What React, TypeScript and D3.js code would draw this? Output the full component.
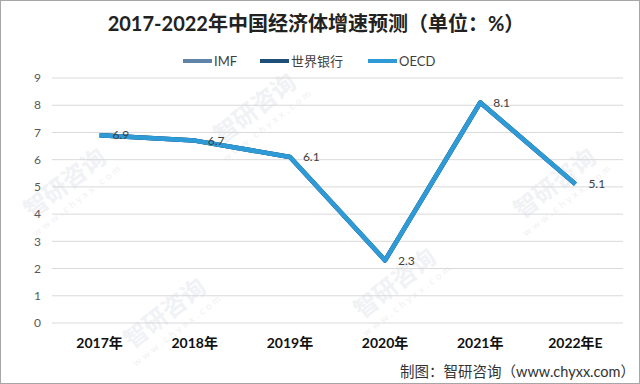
import React, { useEffect, useRef } from 'react';
import * as d3 from 'd3';

const years = ['2017年', '2018年', '2019年', '2020年', '2021年', '2022年E'];
const imf = [6.9, 6.7, 6.1, 2.3, 8.1, 5.1];
const worldBank = [6.9, 6.7, 6.1, 2.3, 8.1, 5.1];
const oecd = [6.9, 6.7, 6.1, 2.3, 8.1, 5.1];
const yTicks = [0, 1, 2, 3, 4, 5, 6, 7, 8, 9];

const series = [
  { name: 'IMF', values: imf, color: '#5f84a8' },
  { name: '世界银行', values: worldBank, color: '#1f4e79' },
  { name: 'OECD', values: oecd, color: '#2e9bd6' },
];

const FONT = "Lato, 'Noto Sans CJK SC', sans-serif";

const Chart = () => {
  const svgRef = useRef(null);

  useEffect(() => {
    const svg = d3.select(svgRef.current);
    const width = 640;
    const height = 384;
    const margin = { top: 78, right: 17, bottom: 61, left: 52 };

    svg.selectAll('*').remove();

    svg.append('rect').attr('width', width).attr('height', height).attr('fill', '#fff');

    // faint watermarks, kept inside the frame
    const marks = [
      [70, 190], [260, 115], [400, 290], [560, 190], [170, 320],
    ];
    marks.forEach(([x, y]) => {
      const g = svg.append('g').attr('transform', `translate(${x},${y}) rotate(-38)`);
      g.append('text')
        .attr('text-anchor', 'middle')
        .attr('font-family', FONT)
        .attr('font-size', 24)
        .attr('font-weight', 'bold')
        .attr('fill', '#f0f2f5')
        .text('智研咨询');
      g.append('text')
        .attr('text-anchor', 'middle')
        .attr('y', 16)
        .attr('font-family', FONT)
        .attr('font-size', 10)
        .attr('letter-spacing', 3)
        .attr('fill', '#f0f2f5')
        .text('www.chyxx.com');
    });

    const x = d3
      .scaleBand()
      .domain(years)
      .range([margin.left, width - margin.right]);

    const y = d3
      .scaleLinear()
      .domain([0, 9])
      .range([height - margin.bottom, margin.top]);

    // gridlines
    svg
      .append('g')
      .selectAll('line')
      .data(yTicks)
      .enter()
      .append('line')
      .attr('x1', margin.left)
      .attr('x2', width - margin.right)
      .attr('y1', (d) => y(d))
      .attr('y2', (d) => y(d))
      .attr('stroke', '#d9d9d9')
      .attr('stroke-width', 1);

    // y axis labels
    svg
      .append('g')
      .selectAll('text')
      .data(yTicks)
      .enter()
      .append('text')
      .attr('x', 41)
      .attr('y', (d) => y(d))
      .attr('dy', '0.35em')
      .attr('text-anchor', 'end')
      .attr('font-family', FONT)
      .attr('font-size', 12)
      .attr('fill', '#595959')
      .text((d) => d);

    // x axis labels
    svg
      .append('g')
      .selectAll('text')
      .data(years)
      .enter()
      .append('text')
      .attr('x', (d) => x(d) + x.bandwidth() / 2)
      .attr('y', 348)
      .attr('text-anchor', 'middle')
      .attr('font-family', FONT)
      .attr('font-size', 14)
      .attr('font-weight', 'bold')
      .attr('fill', '#111')
      .text((d) => d);

    const line = d3
      .line()
      .x((d, i) => x(years[i]) + x.bandwidth() / 2)
      .y((d) => y(d));

    series.forEach((s) => {
      svg
        .append('path')
        .datum(s.values)
        .attr('d', line)
        .attr('fill', 'none')
        .attr('stroke', s.color)
        .attr('stroke-width', 4.5)
        .attr('stroke-linejoin', 'round');
    });

    // data labels
    svg
      .append('g')
      .selectAll('text')
      .data(oecd)
      .enter()
      .append('text')
      .attr('x', (d, i) => x(years[i]) + x.bandwidth() / 2 + 13)
      .attr('y', (d) => y(d))
      .attr('dy', '0.35em')
      .attr('font-family', FONT)
      .attr('font-size', 12)
      .attr('fill', '#404040')
      .text((d) => d.toFixed(1));

    // legend
    const legendX = [183, 260, 368];
    series.forEach((s, i) => {
      const lg = svg.append('g').attr('transform', `translate(${legendX[i]},61)`);
      lg.append('line')
        .attr('x1', 0)
        .attr('x2', 29)
        .attr('stroke', s.color)
        .attr('stroke-width', 4);
      lg.append('text')
        .attr('x', 31)
        .attr('dy', '0.35em')
        .attr('font-family', FONT)
        .attr('font-size', 13)
        .attr('fill', '#404040')
        .text(s.name);
    });

    // title
    svg
      .append('text')
      .attr('x', 316)
      .attr('y', 31)
      .attr('text-anchor', 'middle')
      .attr('font-family', FONT)
      .attr('font-size', 20)
      .attr('font-weight', 'bold')
      .attr('fill', '#222')
      .text('2017-2022年中国经济体增速预测（单位：%）');

    // source
    svg
      .append('text')
      .attr('x', 635)
      .attr('y', 377)
      .attr('text-anchor', 'end')
      .attr('font-family', FONT)
      .attr('font-size', 14.5)
      .attr('fill', '#333')
      .text('制图：智研咨询（www.chyxx.com）');

    // frame
    svg
      .append('rect')
      .attr('x', 0.5)
      .attr('y', 0.5)
      .attr('width', width - 1)
      .attr('height', height - 1)
      .attr('fill', 'none')
      .attr('stroke', '#a6a6a6');

    return () => {
      svg.selectAll('*').remove();
    };
  }, []);

  return (
    <svg
      ref={svgRef}
      width={640}
      height={384}
      style={{ position: 'absolute', left: 0, top: 0, display: 'block' }}
    ></svg>
  );
};

export default function App() {
  return <Chart />;
}
